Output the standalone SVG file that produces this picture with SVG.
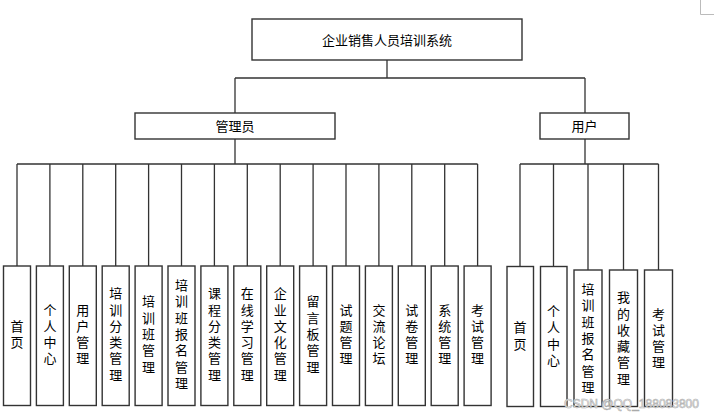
<svg xmlns="http://www.w3.org/2000/svg" width="714" height="417" viewBox="0 0 714 417">
<style>
.box{fill:#fff;stroke:#333;stroke-width:1.4}
.ln{fill:none;stroke:#333;stroke-width:1.3}
.t{font-family:"Noto Sans CJK SC","Liberation Sans",sans-serif;font-size:13px;fill:#000;text-anchor:middle}
.wm{font-family:"Liberation Sans","Noto Sans",sans-serif;font-size:12px;fill:#fff;stroke:#aaa;stroke-width:0.6}
</style>
<rect width="714" height="417" fill="#fff"/>
<path d="M700.5 0V14.5H714" fill="none" stroke="#bbb" stroke-width="1"/>
<g id="connectors" class="ln">
<path d="M387 60V78M235 78H585M235 78V113M585 78V113"/>
<path d="M235 139V164M17 164H477.6"/>
<path d="M17 164V266M49.9 164V266M82.8 164V266M115.7 164V266M148.6 164V266M181.5 164V266M214.4 164V266M247.3 164V266M280.2 164V266M313.1 164V266M346 164V266M378.9 164V266M411.8 164V266M444.7 164V266M477.6 164V266"/>
<path d="M585 139V164M520 164H658.5M520 164V266.5M553.5 164V266.5M588 164V270M623.5 164V270M658.5 164V270"/>
</g>
<g id="root"><rect class="box" x="252" y="19" width="270" height="41"/><text class="t" x="387" y="45">企业销售人员培训系统</text></g>
<g id="admin"><rect class="box" x="135" y="113" width="200" height="26"/><text class="t" x="235" y="130.5">管理员</text></g>
<g id="user"><rect class="box" x="540" y="113" width="89" height="26"/><text class="t" x="584.5" y="130.5">用户</text></g>

<g id="a0"><rect class="box" x="3.5" y="266" width="27" height="139.5"/><text class="t"><tspan x="17" y="330.8">首</tspan><tspan x="17" dy="16.3">页</tspan></text></g>
<g id="a1"><rect class="box" x="36.4" y="266" width="27" height="139.5"/><text class="t"><tspan x="49.9" y="314.5">个</tspan><tspan x="49.9" dy="16.3">人</tspan><tspan x="49.9" dy="16.3">中</tspan><tspan x="49.9" dy="16.3">心</tspan></text></g>
<g id="a2"><rect class="box" x="69.3" y="266" width="27" height="139.5"/><text class="t"><tspan x="82.8" y="314.5">用</tspan><tspan x="82.8" dy="16.3">户</tspan><tspan x="82.8" dy="16.3">管</tspan><tspan x="82.8" dy="16.3">理</tspan></text></g>
<g id="a3"><rect class="box" x="102.2" y="266" width="27" height="139.5"/><text class="t"><tspan x="115.7" y="298.2">培</tspan><tspan x="115.7" dy="16.3">训</tspan><tspan x="115.7" dy="16.3">分</tspan><tspan x="115.7" dy="16.3">类</tspan><tspan x="115.7" dy="16.3">管</tspan><tspan x="115.7" dy="16.3">理</tspan></text></g>
<g id="a4"><rect class="box" x="135.1" y="266" width="27" height="139.5"/><text class="t"><tspan x="148.6" y="306.3">培</tspan><tspan x="148.6" dy="16.3">训</tspan><tspan x="148.6" dy="16.3">班</tspan><tspan x="148.6" dy="16.3">管</tspan><tspan x="148.6" dy="16.3">理</tspan></text></g>
<g id="a5"><rect class="box" x="168" y="266" width="27" height="139.5"/><text class="t"><tspan x="181.5" y="290">培</tspan><tspan x="181.5" dy="16.3">训</tspan><tspan x="181.5" dy="16.3">班</tspan><tspan x="181.5" dy="16.3">报</tspan><tspan x="181.5" dy="16.3">名</tspan><tspan x="181.5" dy="16.3">管</tspan><tspan x="181.5" dy="16.3">理</tspan></text></g>
<g id="a6"><rect class="box" x="200.9" y="266" width="27" height="139.5"/><text class="t"><tspan x="214.4" y="298.2">课</tspan><tspan x="214.4" dy="16.3">程</tspan><tspan x="214.4" dy="16.3">分</tspan><tspan x="214.4" dy="16.3">类</tspan><tspan x="214.4" dy="16.3">管</tspan><tspan x="214.4" dy="16.3">理</tspan></text></g>
<g id="a7"><rect class="box" x="233.8" y="266" width="27" height="139.5"/><text class="t"><tspan x="247.3" y="298.2">在</tspan><tspan x="247.3" dy="16.3">线</tspan><tspan x="247.3" dy="16.3">学</tspan><tspan x="247.3" dy="16.3">习</tspan><tspan x="247.3" dy="16.3">管</tspan><tspan x="247.3" dy="16.3">理</tspan></text></g>
<g id="a8"><rect class="box" x="266.7" y="266" width="27" height="139.5"/><text class="t"><tspan x="280.2" y="298.2">企</tspan><tspan x="280.2" dy="16.3">业</tspan><tspan x="280.2" dy="16.3">文</tspan><tspan x="280.2" dy="16.3">化</tspan><tspan x="280.2" dy="16.3">管</tspan><tspan x="280.2" dy="16.3">理</tspan></text></g>
<g id="a9"><rect class="box" x="299.6" y="266" width="27" height="139.5"/><text class="t"><tspan x="313.1" y="306.3">留</tspan><tspan x="313.1" dy="16.3">言</tspan><tspan x="313.1" dy="16.3">板</tspan><tspan x="313.1" dy="16.3">管</tspan><tspan x="313.1" dy="16.3">理</tspan></text></g>
<g id="a10"><rect class="box" x="332.5" y="266" width="27" height="139.5"/><text class="t"><tspan x="346" y="314.5">试</tspan><tspan x="346" dy="16.3">题</tspan><tspan x="346" dy="16.3">管</tspan><tspan x="346" dy="16.3">理</tspan></text></g>
<g id="a11"><rect class="box" x="365.4" y="266" width="27" height="139.5"/><text class="t"><tspan x="378.9" y="314.5">交</tspan><tspan x="378.9" dy="16.3">流</tspan><tspan x="378.9" dy="16.3">论</tspan><tspan x="378.9" dy="16.3">坛</tspan></text></g>
<g id="a12"><rect class="box" x="398.3" y="266" width="27" height="139.5"/><text class="t"><tspan x="411.8" y="314.5">试</tspan><tspan x="411.8" dy="16.3">卷</tspan><tspan x="411.8" dy="16.3">管</tspan><tspan x="411.8" dy="16.3">理</tspan></text></g>
<g id="a13"><rect class="box" x="431.2" y="266" width="27" height="139.5"/><text class="t"><tspan x="444.7" y="314.5">系</tspan><tspan x="444.7" dy="16.3">统</tspan><tspan x="444.7" dy="16.3">管</tspan><tspan x="444.7" dy="16.3">理</tspan></text></g>
<g id="a14"><rect class="box" x="464.1" y="266" width="27" height="139.5"/><text class="t"><tspan x="477.6" y="314.5">考</tspan><tspan x="477.6" dy="16.3">试</tspan><tspan x="477.6" dy="16.3">管</tspan><tspan x="477.6" dy="16.3">理</tspan></text></g>

<g id="u0"><rect class="box" x="507" y="266.5" width="26.5" height="140"/><text class="t"><tspan x="520" y="332.2">首</tspan><tspan x="520" dy="16.3">页</tspan></text></g>
<g id="u1"><rect class="box" x="540.5" y="266.5" width="26.5" height="140"/><text class="t"><tspan x="553.5" y="316">个</tspan><tspan x="553.5" dy="16.3">人</tspan><tspan x="553.5" dy="16.3">中</tspan><tspan x="553.5" dy="16.3">心</tspan></text></g>
<g id="u2"><rect class="box" x="574" y="270" width="28" height="136.5"/><text class="t"><tspan x="588" y="294">培</tspan><tspan x="588" dy="16.3">训</tspan><tspan x="588" dy="16.3">班</tspan><tspan x="588" dy="16.3">报</tspan><tspan x="588" dy="16.3">名</tspan><tspan x="588" dy="16.3">管</tspan><tspan x="588" dy="16.3">理</tspan></text></g>
<g id="u3"><rect class="box" x="609.5" y="270" width="28" height="136.5"/><text class="t"><tspan x="623.5" y="302.2">我</tspan><tspan x="623.5" dy="16.3">的</tspan><tspan x="623.5" dy="16.3">收</tspan><tspan x="623.5" dy="16.3">藏</tspan><tspan x="623.5" dy="16.3">管</tspan><tspan x="623.5" dy="16.3">理</tspan></text></g>
<g id="u4"><rect class="box" x="644.5" y="270" width="28" height="136.5"/><text class="t"><tspan x="658.5" y="318.5">考</tspan><tspan x="658.5" dy="16.3">试</tspan><tspan x="658.5" dy="16.3">管</tspan><tspan x="658.5" dy="16.3">理</tspan></text></g>

<text class="wm" x="564" y="408">CSDN @QQ_188083800</text>
</svg>
